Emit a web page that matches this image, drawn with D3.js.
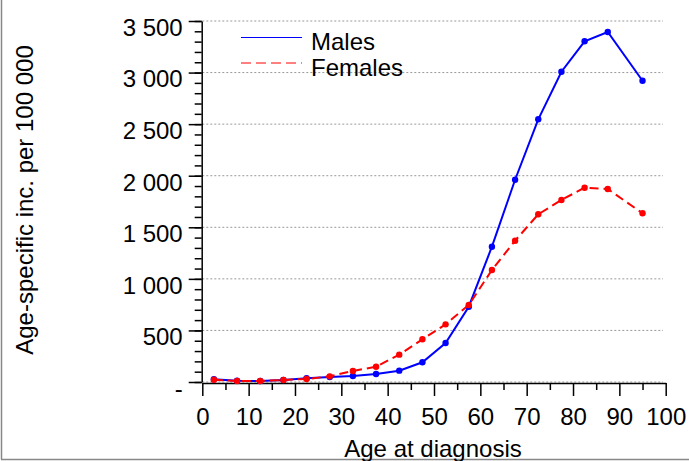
<!DOCTYPE html>
<html><head><meta charset="utf-8">
<script src="https://cdn.jsdelivr.net/npm/d3@7"></script>
<style>
html,body{margin:0;padding:0;background:#fff;}
svg{display:block;font-family:"Liberation Sans",Arial,sans-serif;}
</style></head>
<body>
<svg id="chart" width="689" height="461"></svg>
<script>
const ages = [2.5,7.5,12.5,17.5,22.5,27.5,32.5,37.5,42.5,47.5,52.5,57.5,62.5,67.5,72.5,77.5,82.5,87.5,95];
const males = [26,13,10,20,36,48,58,78,110,191,378,730,1312,1961,2547,3008,3303,3393,2921];
const females = [22,10,10,20,29,55,107,148,265,414,559,746,1086,1370,1626,1765,1884,1871,1636];
const xTicks = [0,10,20,30,40,50,60,70,80,90,100];
const yTicks = [0,500,1000,1500,2000,2500,3000,3500];
const seriesNames = ["Males","Females"];

const svg = d3.select("#chart");
const font = 24;
const x = d3.scaleLinear().domain([0,100]).range([202.3,665.7]);
const y = d3.scaleLinear().domain([0,3500]).range([382,21]);

// frame (left and bottom border)
svg.append("line").attr("x1",1.5).attr("x2",1.5).attr("y1",0).attr("y2",459.5).attr("stroke","#888").attr("stroke-width",1.5);
svg.append("line").attr("x1",1).attr("x2",689).attr("y1",459.5).attr("y2",459.5).attr("stroke","#888").attr("stroke-width",1.5);

// gridlines
svg.append("g").selectAll("line").data(yTicks).join("line")
  .attr("x1",x(0)).attr("x2",663).attr("y1",d=>y(d)).attr("y2",d=>y(d))
  .attr("stroke","#999").attr("stroke-width",1).attr("stroke-dasharray","2,2");

const fmt = d => d===0 ? "-" : d3.format(",")(d).replace(/,/g," ");

// y axis minor ticks
svg.append("g").attr("transform",`translate(${x(0)-0.6},0)`)
  .call(d3.axisLeft(y).tickValues(d3.range(0,3501,100)).tickSize(7).tickFormat(""))
  .call(g=>g.select(".domain").remove())
  .call(g=>g.selectAll("line").attr("stroke","#000").attr("stroke-width",1.5));
// y axis major
svg.append("g").attr("transform",`translate(${x(0)-0.6},0)`)
  .call(d3.axisLeft(y).tickValues(yTicks).tickSize(13).tickSizeOuter(0).tickPadding(6).tickFormat(fmt))
  .call(g=>g.select(".domain").attr("stroke","#000").attr("stroke-width",1.5))
  .call(g=>g.selectAll("line").attr("stroke","#000").attr("stroke-width",1.5))
  .call(g=>g.selectAll("text").attr("font-size",font).attr("fill","#000").attr("dy","0.6em"))
  .attr("font-family",null);

const axY = y(0)+1;
// x minor
svg.append("g").attr("transform",`translate(0,${axY})`)
  .call(d3.axisBottom(x).tickValues(d3.range(5,100,10)).tickSize(7).tickFormat(""))
  .call(g=>g.select(".domain").remove())
  .call(g=>g.selectAll("line").attr("stroke","#000").attr("stroke-width",1.5));
// x major
svg.append("g").attr("transform",`translate(0,${axY})`)
  .call(d3.axisBottom(x).tickValues(xTicks).tickSize(13).tickSizeOuter(0).tickPadding(12).tickFormat(d3.format("d")))
  .call(g=>g.select(".domain").attr("stroke","#000").attr("stroke-width",1.5))
  .call(g=>g.selectAll("line").attr("stroke","#000").attr("stroke-width",1.5))
  .call(g=>g.selectAll("text").attr("font-size",font).attr("fill","#000"))
  .attr("font-family",null);

// titles
svg.append("text").attr("x",433).attr("y",457).attr("text-anchor","middle")
  .attr("font-size",font).attr("fill","#000").text("Age at diagnosis");
svg.append("text").attr("transform","translate(33,200) rotate(-90)").attr("text-anchor","middle")
  .attr("font-size",font).attr("fill","#000").text("Age-specific inc. per 100 000");

// series
const series = [
  {name:seriesNames[0], vals:males, color:"#0000ff", dash:null},
  {name:seriesNames[1], vals:females, color:"#ff0000", dash:"9,5"}
];
const line = d3.line().x(d=>x(d[0])).y(d=>y(d[1]));
series.forEach(s=>{
  const pts = ages.map((a,i)=>[a,s.vals[i]]);
  svg.append("path").datum(pts).attr("d",line).attr("fill","none")
    .attr("stroke",s.color).attr("stroke-width",2).attr("stroke-dasharray",s.dash);
  svg.append("g").selectAll("circle").data(pts).join("circle")
    .attr("cx",d=>x(d[0])).attr("cy",d=>y(d[1])).attr("r",3.2).attr("fill",s.color);
});

// legend
series.forEach((s,i)=>{
  const ly = 37.5 + i*25.5;
  svg.append("line").attr("x1",241).attr("x2",302).attr("y1",ly).attr("y2",ly)
    .attr("stroke",s.color).attr("stroke-width",1).attr("stroke-dasharray",s.dash?"10,5":null);
  svg.append("text").attr("x",311).attr("y",ly+12.5).attr("font-size",font).attr("fill","#000").text(s.name);
});
</script>
</body></html>
